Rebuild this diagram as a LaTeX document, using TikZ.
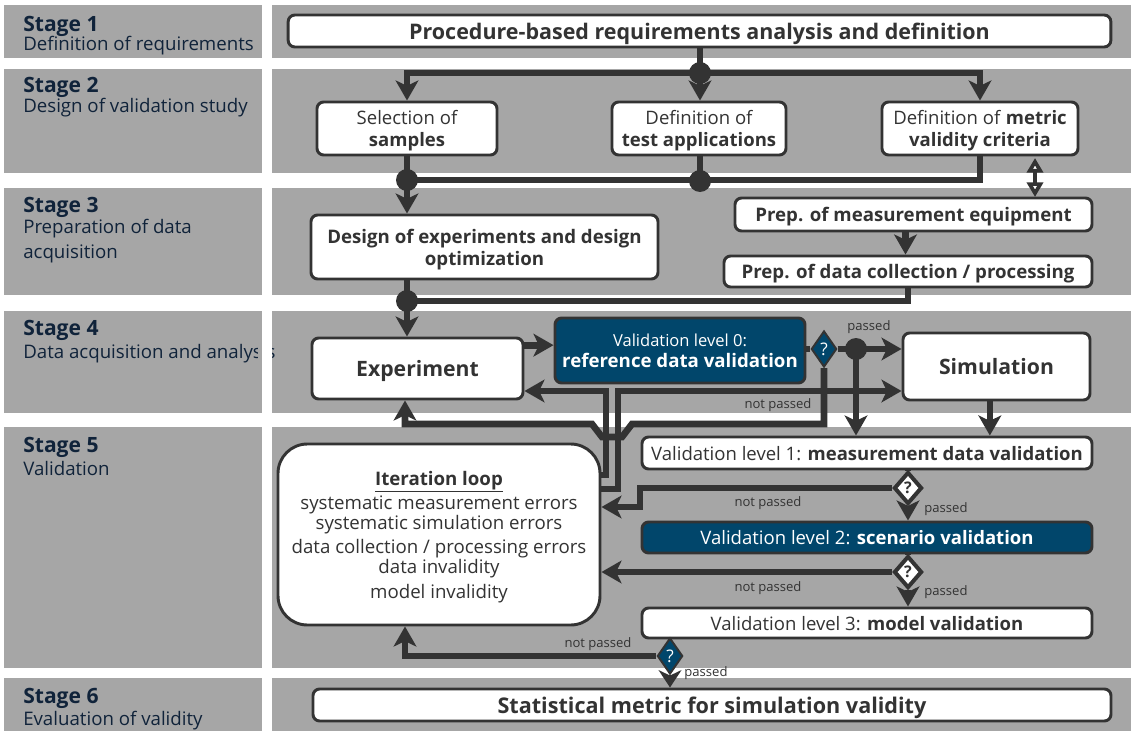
\documentclass[tikz,border=0pt]{standalone}
\usepackage{fontspec}
\setmainfont{Open Sans}
\usetikzlibrary{arrows.meta,shapes.geometric,calc}
\definecolor{bandgray}{HTML}{A6A6A6}
\definecolor{linec}{HTML}{333333}
\definecolor{textc}{HTML}{333333}
\definecolor{stagec}{HTML}{10233A}
\definecolor{blueb}{HTML}{01466B}
\newcommand\fsz[2]{\fontsize{#1}{#2}\selectfont}
\begin{document}
\begin{tikzpicture}[x=0.75pt,y=-0.75pt,
  nbox/.style={draw=linec, line width=2.2pt, fill=white, rounded corners=5pt, align=center, text=textc, inner sep=0pt, text depth=0pt},
  bbox/.style={nbox, fill=blueb, text=white},
  fa/.style={font=\fsz{13.9pt}{16.5pt}},
  fb/.style={font=\fsz{14pt}{16.5pt}\bfseries},
  fc/.style={font=\fsz{15.9pt}{18pt}\bfseries},
  stitle/.style={anchor=base west, text=stagec, inner sep=0pt, font=\fsz{15.8pt}{18pt}\bfseries},
  ssub/.style={anchor=base west, text=stagec, inner sep=0pt, font=\fsz{14pt}{16pt}},
  conn/.style={draw=linec, line width=5pt},
  arr/.style={conn, -{Stealth[length=15pt,width=17pt,inset=4pt]}},
  jdot/.style={circle, fill=linec, minimum size=16.5pt, inner sep=0pt},
  diamb/.style={diamond, draw=linec, line width=1.5pt, fill=blueb, text=white, inner sep=0pt, minimum width=19pt, minimum height=27pt, font=\fsz{13pt}{15pt}},
  diamw/.style={diamond, draw=linec, line width=3pt, fill=white, text=linec, inner sep=0pt, minimum width=21pt, minimum height=24pt, font=\fsz{12pt}{14pt}\bfseries},
  lbl/.style={text=textc, inner sep=0pt, font=\fsz{9.8pt}{11pt}},
  itx/.style={anchor=base, text=textc, inner sep=0pt, font=\fsz{14pt}{16pt}}
]
\useasboundingbox (0,0) rectangle (1131,731);
% bands
\foreach \ya/\yb in {5/58, 69/173, 188/295, 311/413, 427/668, 678/731}{
  \fill[bandgray] (4,\ya) rectangle (262,\yb);
  \fill[bandgray] (272,\ya) rectangle (1131,\yb);
}
% stage labels
\node[stitle] (s1t) at (23,31.5) {Stage 1};
\node[ssub] (s1s) at (23,51) {Definition of requirements};
\node[stitle] (s2t) at (23,93) {Stage 2};
\node[ssub] (s2s) at (23,113) {Design of validation study};
\node[stitle] (s3t) at (23,212) {Stage 3};
\node[ssub] (s3s) at (23,233) {Preparation of data};
\node[ssub] (s3u) at (23,258) {acquisition};
\node[stitle] (s4t) at (23,335) {Stage 4};
\node[ssub] (s4s) at (23,358) {Data acquisition and analysis};
\fill[bandgray] (257.5,340) rectangle (262,364);
\fill[white] (262,340) rectangle (272,364);
\node[stitle] (s5t) at (23,452) {Stage 5};
\node[ssub] (s5s) at (23,475) {Validation};
\node[stitle] (s6t) at (23,703) {Stage 6};
\node[ssub] (s6s) at (23,725) {Evaluation of validity};

% boxes
\node[nbox, minimum width=617pt, minimum height=24pt, font=\fsz{16.1pt}{18pt}\bfseries] (top) at (699.5,31) {Procedure-based requirements analysis and definition};
\node[nbox, fa, minimum width=135pt, minimum height=39.75pt] (sel) at (407,128.5) {Selection of\\\textbf{samples}};
\node[nbox, fa, minimum width=130.5pt, minimum height=39.75pt] (test) at (699,128.5) {Definition of\\\textbf{test applications}};
\node[nbox, fa, minimum width=147pt, minimum height=39.75pt] (metric) at (980,128.5) {Definition of \textbf{metric}\\\textbf{validity criteria}};
\node[nbox, font=\fsz{14pt}{16.5pt}\bfseries, minimum width=260.25pt, minimum height=48pt] (design) at (484.5,247) {Design of experiments and design\\optimization};
\node[nbox, fb, minimum width=267.75pt, minimum height=24.75pt] (prepm) at (913.5,214.5) {Prep. of measurement equipment};
\node[nbox, fb, minimum width=276pt, minimum height=23.25pt] (prepd) at (908,271.5) {Prep. of data collection / processing};
\node[nbox, fc, minimum width=158.25pt, minimum height=45.75pt] (exp) at (417.5,368.5) {Experiment};
\node[bbox, font=\fsz{12.4pt}{16pt}, minimum width=187.5pt, minimum height=48.75pt] (val0) at (680,350.5) {Validation level 0:\\\fsz{14pt}{16pt}\bfseries reference data validation};
\node[nbox, fc, minimum width=140.25pt, minimum height=50.25pt] (sim) at (996.5,366.5) {Simulation};
\node[nbox, fa, minimum width=337.5pt, minimum height=24pt] (val1) at (867,453) {Validation level 1: \textbf{measurement data validation}};
\node[bbox, fa, minimum width=337.5pt, minimum height=23.25pt] (val2) at (867,537.5) {Validation level 2: \textbf{scenario validation}};
\node[nbox, fa, minimum width=337.5pt, minimum height=22.5pt] (val3) at (867,623) {Validation level 3: \textbf{model validation}};
\node[nbox, rounded corners=22pt, minimum width=241.5pt, minimum height=135.75pt] (iter) at (439,534.5) {};
\node[itx, font=\fsz{14pt}{16pt}\bfseries] (it0) at (439,485) {\underline{Iteration loop}};
\node[itx] (it1) at (439,509) {systematic measurement errors};
\node[itx] (it2) at (439,529) {systematic simulation errors};
\node[itx] (it3) at (439,553) {data collection / processing errors};
\node[itx] (it4) at (439,573) {data invalidity};
\node[itx] (it5) at (439,598) {model invalidity};
\node[nbox, font=\fsz{16.2pt}{18pt}\bfseries, minimum width=598.5pt, minimum height=24pt] (stat) at (712,705) {Statistical metric for simulation validity};

% stage 1 -> 2
\node[jdot] (J1) at (700,73) {};
\draw[conn] (top.south -| J1) -- (J1.center);
\draw[arr] (J1.center) -| (sel.north);
\draw[arr] (J1.center) -- (J1.center |- test.north);
\draw[arr] (J1.center) -| (metric.north);
% stage 2 -> 3
\node[jdot] (J2) at (407,180) {};
\node[jdot] (J3) at (700,181) {};
\draw[conn] (sel.south) -- (J2.center);
\draw[conn] (test.south -| J3) -- (J3.center);
\draw[conn] (metric.south) |- (J2.center);
\draw[arr] (J2.center) -- (J2.center |- design.north);
\draw[line width=3.5pt, draw=linec, {Triangle[open,length=11pt,width=12pt,fill=white]}-{Triangle[open,length=11pt,width=12pt,fill=white]}] (1035,158) -- (1035,197);
% stage 3
\draw[arr] ([xshift=-6pt]prepm.south) -- ([xshift=-6pt]prepm.south |- prepd.north);
\node[jdot] (J4) at (407,301) {};
\draw[conn] (prepd.south) |- (J4.center);
\draw[conn] (J4.center |- design.south) -- (J4.center);
\draw[arr] (J4.center) -- (J4.center |- exp.north);
% stage 4
\draw[arr] ([yshift=4pt]val0.west -| exp.east) -- ([yshift=4pt]val0.west);
\coordinate (ia) at (606,475);
\coordinate (ib) at (606,391);
\draw[arr] (ia -| iter.east) -- (ia) -- (ib) -- (ib -| exp.east);
\coordinate (ic) at (618,489);
\coordinate (id) at (618,391);
\draw[arr] (ic -| iter.east) -- (ic) -- (id) -- (id -| sim.west);
\node[diamb] (d0) at (824,349) {?};
\node[jdot] (J5) at (856,349) {};
\draw[conn] (d0.west -| val0.east) -- (d0.west);
\draw[conn] (d0.east) -- (J5.center);
\draw[arr] (J5.center) -- (J5.center -| sim.west);
\draw[arr] (J5.center) -- (J5.center |- val1.north);
\node[lbl] (lp0) at (869,327) {passed};
\coordinate (n0a) at (824,424);
\coordinate (n0b) at (632,424);
\coordinate (n0c) at (622,437);
\coordinate (n0d) at (602,437);
\coordinate (n0e) at (592,424);
\coordinate (n0f) at (405,424);
\draw[arr] (d0.south) -- (n0a) -- (n0b) -- (n0c) -- (n0d) -- (n0e) -- (n0f) -- (n0f |- exp.south);
\node[lbl] (ln0) at (778,405) {not passed};
\draw[arr] ([xshift=-5pt]sim.south) -- ([xshift=-5pt]sim.south |- val1.north);
% stage 5
\node[diamw] (d1) at (908,488) {?};
\draw[conn] (d1.north |- val1.south) -- (d1.north);
\coordinate (n1a) at (640,488);
\coordinate (n1b) at (640,507);
\draw[arr] (d1.west) -- (n1a) -- (n1b) -- (n1b -| iter.east);
\draw[arr] (d1.south) -- (d1.south |- val2.north);
\node[lbl] (ln1) at (768,503) {not passed};
\node[lbl] (lp1) at (946,509) {passed};
\node[diamw] (d2) at (908,572) {?};
\draw[conn] (d2.north |- val2.south) -- (d2.north);
\draw[arr] (d2.west) -- (d2.west -| iter.east);
\draw[arr] (d2.south) -- (d2.south |- val3.north);
\node[lbl] (ln2) at (768,588) {not passed};
\node[lbl] (lp2) at (946,592) {passed};
\node[diamb] (d3) at (670,656) {?};
\draw[conn] (d3.north |- val3.south) -- (d3.north);
\coordinate (n3a) at (405,656);
\draw[arr] (d3.west) -- (n3a) -- (n3a |- iter.south);
\draw[conn, -{Stealth[length=13pt,width=17pt,inset=4pt]}] (d3.south) -- (d3.south |- stat.north);
\node[lbl] (ln3) at (598,644) {not passed};
\node[lbl] (lp3) at (706,673) {passed};
\end{tikzpicture}
\end{document}
